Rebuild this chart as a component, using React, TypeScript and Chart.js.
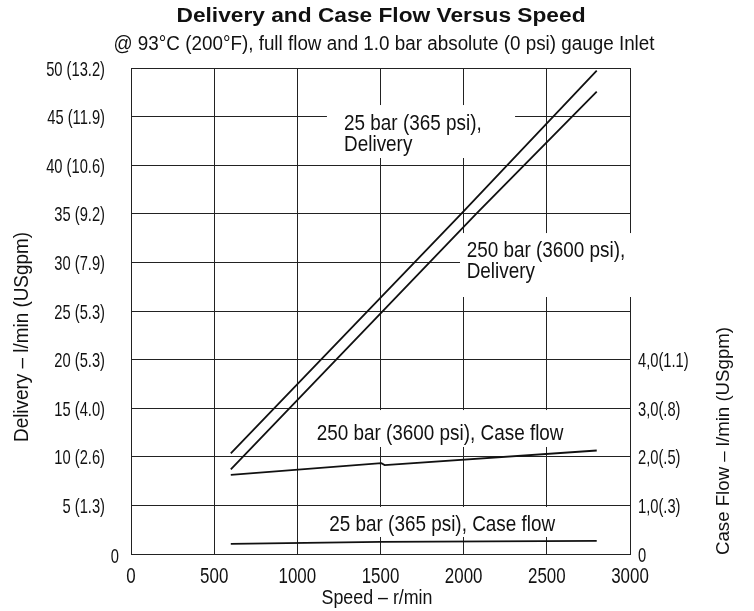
import React, { useEffect, useRef } from "react";
import { Chart, registerables } from "chart.js";

Chart.register(...registerables);

// ---------- data ----------
const speedTickValues = [0, 500, 1000, 1500, 2000, 2500, 3000];
const speedTickLabels = ["0", "500", "1000", "1500", "2000", "2500", "3000"];
const deliveryTickValues = [0, 5, 10, 15, 20, 25, 30, 35, 40, 45, 50];
const deliveryTickLabels = [
  "0", "5 (1.3)", "10 (2.6)", "15 (4.0)", "20 (5.3)", "25 (5.3)",
  "30 (7.9)", "35 (9.2)", "40 (10.6)", "45 (11.9)", "50 (13.2)",
];
const caseTickValues = [0, 1, 2, 3, 4];
const caseTickLabels = ["0", "1,0(.3)", "2,0(.5)", "3,0(.8)", "4,0(1.1)"];

// Delivery (l/min) vs speed (r/min)
const delivery25Speed = [600, 1985, 2800];
const delivery25Value = [10.36, 35, 49.72];
const delivery250Speed = [600, 2075, 2800];
const delivery250Value = [8.71, 35, 47.56];

// Case flow (l/min) vs speed (r/min)
const case250Speed = [600, 1505, 1525, 2800];
const case250Value = [1.63, 1.87, 1.83, 2.13];
const case25Speed = [600, 1500, 2800];
const case25Value = [0.21, 0.25, 0.27];

// ---------- texts ----------
const TITLE = "Delivery and Case Flow Versus Speed";
const SUBTITLE = "@ 93°C (200°F), full flow and 1.0 bar absolute (0 psi) gauge Inlet";
const X_TITLE = "Speed – r/min";
const Y_TITLE = "Delivery – l/min (USgpm)";
const Y2_TITLE = "Case Flow – l/min (USgpm)";

// annotation boxes: [speed0, speed1, deliveryTop, deliveryBottom], text anchor (speed, delivery baseline)
const notes = [
  { box: [1178, 2309, 46.19, 40.74], at: [1281, 43.62], lines: ["25 bar (365 psi),", "Delivery"] },
  { box: [1978, 3012, 33.02, 26.44], at: [2018, 30.59], lines: ["250 bar (3600 psi),", "Delivery"] },
  { box: [1046, 2609, 14.81, 11.01], at: [1116, 11.73], lines: ["250 bar (3600 psi), Case flow"] },
  { box: [1046, 2609, 4.84, 1.75], at: [1192, 2.4], lines: ["25 bar (365 psi), Case flow"] },
];

const FONT = "'Liberation Sans Narrow', 'Liberation Sans', Arial, sans-serif";
const INK = "#111";
const GRID = "#222";

type TextOpts = { width?: number; sx?: number; rotate?: number };

function drawText(
  ctx: CanvasRenderingContext2D,
  text: string,
  x: number,
  y: number,
  font: string,
  align: CanvasTextAlign,
  opts: TextOpts = {}
) {
  ctx.save();
  ctx.font = font;
  ctx.fillStyle = INK;
  ctx.textBaseline = "alphabetic";
  ctx.textAlign = align;
  const m = ctx.measureText(text).width;
  const sx = opts.width ? opts.width / m : opts.sx ?? 1;
  ctx.translate(x, y);
  if (opts.rotate) ctx.rotate(opts.rotate);
  ctx.scale(sx, 1);
  ctx.fillText(text, 0, 0);
  ctx.restore();
}

export default function App() {
  const ref = useRef<HTMLCanvasElement>(null);

  useEffect(() => {
    document.body.style.margin = "0";
    const canvas = ref.current!;
    const pts = (xs: number[], ys: number[]) => xs.map((x, i) => ({ x, y: ys[i] }));
    const ds = (label: string, xs: number[], ys: number[], axis: string) => ({
      label,
      data: pts(xs, ys),
      yAxisID: axis,
      borderColor: INK,
      backgroundColor: INK,
      borderWidth: 1.8,
      pointRadius: 0,
      fill: false,
      tension: 0,
    });

    const textPlugin = {
      id: "texts",
      beforeDraw(chart: any) {
        const ctx = chart.ctx;
        ctx.save();
        ctx.fillStyle = "#fff";
        ctx.fillRect(0, 0, chart.width, chart.height);
        ctx.restore();
      },
      beforeDatasetsDraw(chart: any) {
        const ctx = chart.ctx as CanvasRenderingContext2D;
        const xs = chart.scales.x;
        const ys = chart.scales.y;
        notes.forEach((n) => {
          const x0 = xs.getPixelForValue(n.box[0]);
          const x1 = xs.getPixelForValue(n.box[1]);
          const y0 = ys.getPixelForValue(n.box[2]);
          const y1 = ys.getPixelForValue(n.box[3]);
          ctx.save();
          ctx.fillStyle = "#fff";
          ctx.fillRect(x0, y0, x1 - x0, y1 - y0);
          ctx.restore();
          const tx = xs.getPixelForValue(n.at[0]);
          const ty = ys.getPixelForValue(n.at[1]);
          n.lines.forEach((line, i) => {
            drawText(ctx, line, tx, ty + i * 21, `22.5px ${FONT}`, "left", { sx: 0.84 });
          });
        });
      },
      afterDraw(chart: any) {
        const ctx = chart.ctx as CanvasRenderingContext2D;
        const { x, y, y2 } = chart.scales;
        // tick labels, placed by the scales
        x.ticks.forEach((t: any) => {
          const i = speedTickValues.indexOf(t.value);
          if (i < 0) return;
          drawText(ctx, speedTickLabels[i], x.getPixelForValue(t.value), 583, `22px ${FONT}`, "center", { sx: 0.77 });
        });
        y.ticks.forEach((t: any) => {
          const i = deliveryTickValues.indexOf(t.value);
          if (i < 0) return;
          const px = t.value === 0 ? 119 : 105;
          const py = y.getPixelForValue(t.value) + (t.value === 0 ? 9 : 7.5);
          drawText(ctx, deliveryTickLabels[i], px, py, `21px ${FONT}`, "right", { sx: 0.7 });
        });
        y2.ticks.forEach((t: any) => {
          const i = caseTickValues.indexOf(t.value);
          if (i < 0) return;
          drawText(ctx, caseTickLabels[i], 638, y2.getPixelForValue(t.value) + 7.5, `21px ${FONT}`, "left", { sx: 0.7 });
        });
        // titles
        drawText(ctx, TITLE, 381, 22, `bold 20px ${FONT}`, "center", { width: 409 });
        drawText(ctx, SUBTITLE, 384, 50, `19.5px ${FONT}`, "center", { width: 541 });
        drawText(ctx, X_TITLE, 377, 604, `20px ${FONT}`, "center", { width: 111 });
        drawText(ctx, Y_TITLE, 28, 337, `20px ${FONT}`, "center", { width: 210, rotate: -Math.PI / 2 });
        drawText(ctx, Y2_TITLE, 729, 441, `18px ${FONT}`, "center", { width: 228, rotate: -Math.PI / 2 });
      },
    };

    const chart = new Chart(canvas, {
      type: "line",
      data: {
        datasets: [
          ds("25 bar (365 psi), Delivery", delivery25Speed, delivery25Value, "y"),
          ds("250 bar (3600 psi), Delivery", delivery250Speed, delivery250Value, "y"),
          ds("250 bar (3600 psi), Case flow", case250Speed, case250Value, "y2"),
          ds("25 bar (365 psi), Case flow", case25Speed, case25Value, "y2"),
        ] as any,
      },
      options: {
        responsive: false,
        animation: false,
        devicePixelRatio: 1,
        layout: { padding: { top: 68, left: 0, right: 0, bottom: 0 } },
        plugins: {
          legend: { display: false },
          tooltip: { enabled: false },
          title: { display: false },
        },
        scales: {
          x: {
            type: "linear",
            min: 0,
            max: 3000,
            afterBuildTicks: (s: any) => {
              s.ticks = speedTickValues.map((v) => ({ value: v }));
            },
            ticks: { display: false },
            grid: { color: GRID, lineWidth: 1, drawTicks: false },
            border: { color: GRID, width: 1 },
            afterFit: (s: any) => {
              s.height = 57;
            },
          },
          y: {
            position: "left",
            min: 0,
            max: 50,
            afterBuildTicks: (s: any) => {
              s.ticks = deliveryTickValues.map((v) => ({ value: v }));
            },
            ticks: { display: false },
            grid: { color: GRID, lineWidth: 1, drawTicks: false },
            border: { color: GRID, width: 1 },
            afterFit: (s: any) => {
              s.width = 131;
            },
          },
          y2: {
            position: "right",
            min: 0,
            max: 10,
            afterBuildTicks: (s: any) => {
              s.ticks = caseTickValues.map((v) => ({ value: v }));
            },
            ticks: { display: false },
            grid: { display: false, drawTicks: false },
            border: { color: GRID, width: 1 },
            afterFit: (s: any) => {
              s.width = 124;
            },
          },
        },
      } as any,
      plugins: [textPlugin],
    });
    return () => chart.destroy();
  }, []);

  return (
    <div style={{ position: "fixed", left: 0, top: 0, width: 754, height: 611, background: "#fff" }}>
      <canvas ref={ref} width={754} height={611} style={{ display: "block", width: 754, height: 611 }} />
    </div>
  );
}
